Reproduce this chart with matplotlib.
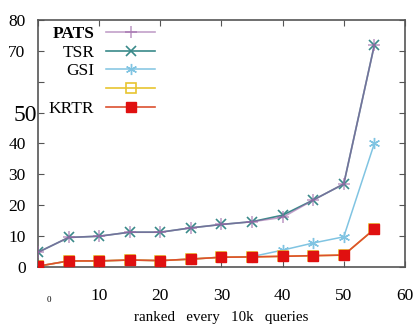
import matplotlib
matplotlib.use("Agg")
import matplotlib.pyplot as plt

# query batches (x) and per-method values
x = [0, 5, 10, 15, 20, 25, 30, 35, 40, 45, 50, 55]
pats = [4.8, 9.6, 10.0, 11.3, 11.3, 12.7, 13.8, 14.7, 16.1, 21.7, 26.9, 71.8]
tsr = [4.8, 9.6, 10.0, 11.3, 11.3, 12.7, 13.8, 14.7, 16.8, 21.7, 26.9, 71.8]
gsi = [0.3, 2.0, 2.0, 2.3, 2.1, 2.6, 3.2, 3.4, 5.5, 7.8, 9.8, 40.0]
blank = [0.3, 2.0, 2.0, 2.3, 2.1, 2.6, 3.2, 3.3, 3.5, 3.7, 3.9, 12.3]
krtr = [0.3, 2.0, 2.0, 2.3, 2.1, 2.6, 3.2, 3.3, 3.5, 3.7, 3.9, 12.3]
names = ["PATS", "TSR", "GSI", " ", "KRTR"]

plt.rcParams["font.family"] = ["Liberation Serif", "DejaVu Serif"]

fig = plt.figure(figsize=(4.14, 3.31), dpi=100)
ax = fig.add_axes([0.092, 0.193, 0.886, 0.747])

l_pats, = ax.plot(x, pats, color="#9a62a6", lw=1.2, marker="+", ms=8, mew=1.2,
                  label=names[0], zorder=3)
l_tsr, = ax.plot(x, tsr, color="#3a8a8a", lw=1.2, marker="x", ms=7, mew=1.2,
                 label=names[1], zorder=2)
l_gsi, = ax.plot(x, gsi, color="#80c4e2", lw=1.1, marker=(6, 2, 0), ms=8, mew=1.0,
                 label=names[2], zorder=1)
l_blank, = ax.plot(x, blank, color="#e8c530", lw=1.2, marker="s", ms=7.5, mfc="none",
                   mew=1.2, label=names[3], zorder=1)
l_krtr, = ax.plot(x, krtr, color="#dc5030", lw=1.2, marker="s", ms=7.5, mfc="#e01010",
                  mec="#e01010", label=names[4], zorder=4)
l_pats.set_alpha(0.6)

ax.set_xlim(0, 60)
ax.set_ylim(0, 80)
ax.set_xticks([0, 10, 20, 30, 40, 50, 60])
ax.set_xticklabels(["", "10", "20", "30", "40", "50", "60"], fontsize=12.5)
ax.set_yticks([0, 10, 20, 30, 40, 50, 60, 70, 80])
ax.set_yticklabels(["0", "10", "20", "30", "40", "50", "", "70", "80"], fontsize=12.5)
ax.get_yticklabels()[5].set_fontsize(17)
ax.text(1.7, -0.115, "0", transform=ax.get_xaxis_transform(), fontsize=6.5,
        ha="center", va="top")

ax.tick_params(direction="in", length=4, width=0.8, color="#555555",
               top=True, right=True, pad=9)
ax.tick_params(axis="x", pad=15)
ax.yaxis.get_major_ticks()[5].set_pad(1)
for s in ax.spines.values():
    s.set_color("#555555")
    s.set_linewidth(1.2)

ax.set_xlabel("ranked   every   10k   queries", fontsize=10.8, labelpad=5)

leg = ax.legend(loc="upper left", bbox_to_anchor=(-0.004, 1.025), frameon=False,
                markerfirst=False, fontsize=12.5, handlelength=2.8, labelspacing=0.15,
                handletextpad=0.7, borderaxespad=0.3)
leg.get_texts()[0].set_fontweight("bold")

fig.savefig("out.png", dpi=100)
